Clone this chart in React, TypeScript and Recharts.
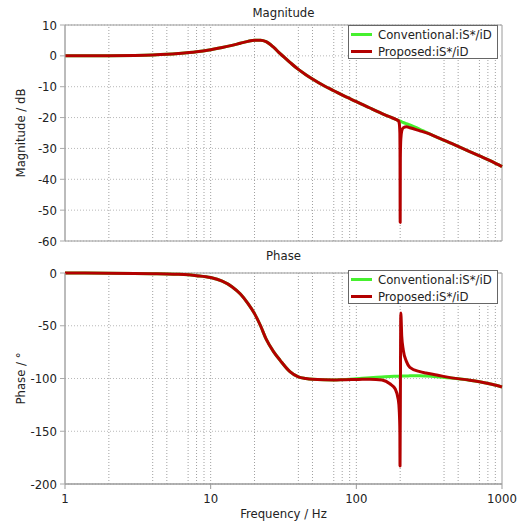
import React from "react";
import {
  LineChart,
  Line,
  XAxis,
  YAxis,
  CartesianGrid,
  ReferenceLine,
  ReferenceArea,
} from "recharts";

// Frequency points (Hz), dense around the 200 Hz notch
const freq = [
  1, 2, 3, 4, 5, 6, 8, 10, 12, 14, 16, 18, 20, 22, 24, 27, 30, 35, 40, 45, 50,
  60, 70, 85, 100, 124, 150, 170, 185, 194, 197, 199, 199.5, 200, 200.5, 202,
  205, 210, 221, 233, 273, 300, 356, 450, 600, 700, 850, 1000,
];

// Magnitude (dB)
const convMag = [
  0, 0.05, 0.15, 0.3, 0.5, 0.75, 1.3, 2.0, 2.7, 3.4, 4.1, 4.7, 5.05, 5.05, 4.6,
  2.8, 0.7, -2.1, -4.4, -6.1, -7.5, -9.7, -11.3, -13.3, -14.8, -16.9, -18.7,
  -19.8, -20.5, -20.9, -21.0, -21.1, -21.1, -21.1, -21.2, -21.2, -21.4, -21.6,
  -22.0, -22.4, -23.8, -24.7, -26.3, -28.4, -31.0, -32.4, -34.2, -35.9,
];
const propMag = [
  0, 0.05, 0.15, 0.3, 0.5, 0.75, 1.3, 2.0, 2.7, 3.4, 4.1, 4.7, 5.05, 5.05, 4.6,
  2.8, 0.7, -2.1, -4.4, -6.1, -7.5, -9.7, -11.3, -13.3, -14.8, -16.9, -18.7,
  -19.8, -20.5, -21.0, -21.8, -25.0, -31.0, -54.0, -33.0, -27.0, -24.3, -23.3,
  -23.0, -23.3, -24.3, -24.9, -26.3, -28.4, -31.0, -32.4, -34.2, -35.9,
];

// Phase (deg)
const convPhase = [
  0, -0.2, -0.4, -0.6, -0.9, -1.3, -2.5, -4.3, -7.8, -13, -20, -28.8, -38.5,
  -50, -62.5, -74.5, -82.8, -93.5, -98.5, -100.0, -100.8, -101.3, -101.4,
  -101.0, -100.3, -99.3, -98.6, -98.1, -97.9, -97.8, -97.8, -97.7, -97.7,
  -97.7, -97.7, -97.7, -97.7, -97.6, -97.6, -97.5, -97.5, -97.7, -98.3, -99.6,
  -101.6, -103.1, -105.5, -108,
];
const propPhase = [
  0, -0.2, -0.4, -0.6, -0.9, -1.3, -2.5, -4.3, -7.8, -13, -20, -28.8, -38.5,
  -50, -62.5, -74.5, -82.8, -93.5, -98.5, -100.0, -100.8, -101.3, -101.4,
  -101.1, -101.0, -100.6, -101.5, -105, -110, -120, -130, -150, -183, -154,
  -125, -38, -60, -73, -84, -89.4, -93.5, -94.8, -96.7, -99.4, -101.6, -103.1,
  -105.5, -108,
];

const seriesNames = ["Conventional:iS*/iD", "Proposed:iS*/iD"];
const freqTicks = [1, 10, 100, 1000];
const gridFreqs = [
  2, 4, 5, 7, 8, 9, 10, 20, 40, 50, 70, 80, 90, 100, 200, 400, 500, 700, 800,
  900,
];
const magTicks = [-60, -50, -40, -30, -20, -10, 0, 10];
const phaseTicks = [-200, -150, -100, -50, 0];

const GREEN = "#46f02e";
const RED = "#b30000";
const FONT = "'DejaVu Sans Condensed', 'DejaVu Sans', Verdana, sans-serif";
const FS = 13;
const TEXT = "#222";

const magData = freq.map((f, i) => ({ f, conv: convMag[i], prop: propMag[i] }));
const phaseData = freq.map((f, i) => ({
  f,
  conv: convPhase[i],
  prop: propPhase[i],
}));

function LegendBox({ top }: { top: number }) {
  const colors = [GREEN, RED];
  return (
    <div
      style={{
        position: "absolute",
        left: 348,
        top,
        width: 150,
        height: 34,
        border: "1px solid #666",
        background: "#fff",
        boxSizing: "border-box",
      }}
    >
      {seriesNames.map((name, i) => (
        <div
          key={name}
          style={{
            display: "flex",
            alignItems: "center",
            height: 17,
            fontSize: FS,
            color: TEXT,
            whiteSpace: "nowrap",
          }}
        >
          <span
            style={{
              display: "inline-block",
              width: 21,
              height: 3,
              marginLeft: 2,
              marginRight: 6,
              background: colors[i],
            }}
          />
          {name}
        </div>
      ))}
    </div>
  );
}

interface PanelProps {
  data: { f: number; conv: number; prop: number }[];
  yTicks: number[];
  yLabel: string;
  height: number;
  top: number;
  bottom: number;
  showX: boolean;
}

function Panel({ data, yTicks, yLabel, height, top, bottom, showX }: PanelProps) {
  const yMin = yTicks[0];
  const yMax = yTicks[yTicks.length - 1];
  return (
    <LineChart
      width={525}
      height={height}
      data={data}
      margin={{ top, right: 23, left: 0, bottom }}
    >
      <CartesianGrid vertical={false} stroke="#b8b8b8" strokeDasharray="1 2" />
      {gridFreqs.map((g) => (
        <ReferenceLine key={g} x={g} stroke="#a0a0a0" strokeDasharray="1 2" />
      ))}
      <XAxis
        dataKey="f"
        type="number"
        scale="log"
        domain={[1, 1000]}
        ticks={freqTicks}
        hide={!showX}
        height={40}
        tickSize={5}
        tickMargin={5}
        stroke="#999"
        tick={{ fontSize: FS, fill: TEXT, fontFamily: FONT }}
        label={{
          value: "Frequency / Hz",
          position: "insideBottom",
          offset: 6,
          fontSize: FS,
          fill: TEXT,
          fontFamily: FONT,
        }}
      />
      <YAxis
        type="number"
        domain={[yMin, yMax]}
        ticks={yTicks}
        width={65}
        tickSize={5}
        tickMargin={3}
        stroke="#aaa"
        tick={{ fontSize: FS, fill: TEXT, fontFamily: FONT }}
        label={{
          value: yLabel,
          angle: -90,
          position: "insideLeft",
          offset: 20,
          fontSize: FS,
          fill: TEXT,
          fontFamily: FONT,
          style: { textAnchor: "middle" },
        }}
      />
      <ReferenceArea
        x1={1}
        x2={1000}
        y1={yMin}
        y2={yMax}
        fill="none"
        stroke="#9a9a9a"
        strokeWidth={1}
      />
      <Line
        type="monotone"
        dataKey="conv"
        name={seriesNames[0]}
        stroke={GREEN}
        strokeWidth={3}
        dot={false}
        isAnimationActive={false}
      />
      <Line
        type="monotone"
        dataKey="prop"
        name={seriesNames[1]}
        stroke={RED}
        strokeWidth={3}
        strokeLinejoin="round"
        dot={false}
        isAnimationActive={false}
      />
    </LineChart>
  );
}

export default function App() {
  const title: React.CSSProperties = {
    position: "absolute",
    left: 65,
    width: 437,
    textAlign: "center",
    fontSize: FS,
    lineHeight: "14px",
    color: TEXT,
  };
  return (
    <div
      style={{
        position: "absolute",
        left: 0,
        top: 0,
        width: 525,
        height: 524,
        background: "#fff",
        fontFamily: FONT,
      }}
    >
      <div style={{ ...title, top: 6 }}>Magnitude</div>
      <div style={{ position: "absolute", left: 0, top: 0 }}>
        <Panel
          data={magData}
          yTicks={magTicks}
          yLabel="Magnitude / dB"
          height={250}
          top={25}
          bottom={9}
          showX={false}
        />
      </div>
      <LegendBox top={25} />

      <div style={{ ...title, top: 249 }}>Phase</div>
      <div style={{ position: "absolute", left: 0, top: 250 }}>
        <Panel
          data={phaseData}
          yTicks={phaseTicks}
          yLabel="Phase / °"
          height={274}
          top={23}
          bottom={0}
          showX={true}
        />
      </div>
      <LegendBox top={270} />
    </div>
  );
}
